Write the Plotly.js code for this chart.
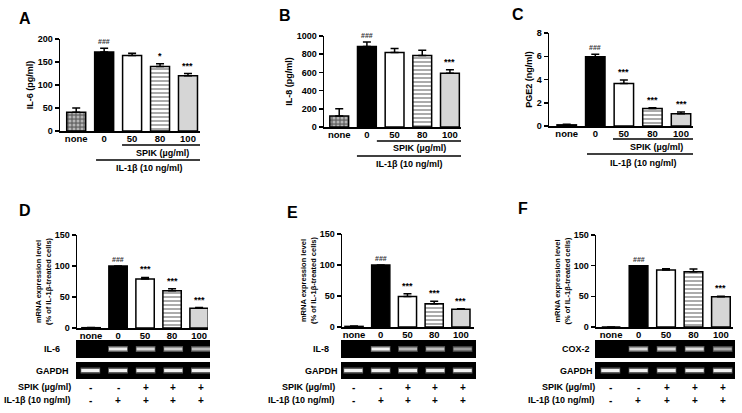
<!DOCTYPE html>
<html>
<head>
<meta charset="utf-8">
<script src="https://cdn.plot.ly/plotly-3.0.1.min.js"></script>
<style>
html, body { margin: 0; padding: 0; background: #fff; }
#chart { width: 742px; height: 413px; }
</style>
</head>
<body>
<div id="chart"></div>
<script>
// groups on every x axis
var groups = ['none', '0', '50', '80', '100'];

// A-C: secreted protein (mean, SEM)
var il6Mean = [41, 172, 164, 140, 120];
var il6Err = [9, 8, 5, 6, 5];
var il6Sig = ['', '###', '', '*', '***'];

var il8Mean = [120, 885, 820, 785, 590];
var il8Err = [80, 50, 42, 58, 40];
var il8Sig = ['', '###', '', '', '***'];

var pge2Mean = [0.1, 5.95, 3.65, 1.5, 1.05];
var pge2Err = [0.05, 0.22, 0.3, 0.08, 0.15];
var pge2Sig = ['', '###', '***', '***', '***'];

// D-F: mRNA, % of IL-1b treated cells
var il6Mrna = [0.5, 100, 79, 60, 32];
var il6MrnaErr = [0.3, 0, 2.5, 3.5, 1];
var il6MrnaSig = ['', '###', '***', '***', '***'];

var il8Mrna = [1, 100, 49, 37.5, 28.5];
var il8MrnaErr = [0.5, 0, 4.5, 4, 0.8];
var il8MrnaSig = ['', '###', '***', '***', '***'];

var cox2Mrna = [0, 100, 93, 90, 49.5];
var cox2MrnaErr = [0, 0, 2, 4.5, 0.7];
var cox2MrnaSig = ['', '###', '', '', '***'];

// gel band brightness (0 = no band)
var il6Band = [0, 0.92, 0.85, 0.82, 0.74];
var il8Band = [0, 0.95, 0.72, 0.76, 0.62];
var cox2Band = [0, 0.86, 0.86, 0.88, 0.68];
var gapdhBandD = [0.95, 0.95, 0.95, 0.95, 0.95];
var gapdhBandE = [0.95, 0.95, 0.95, 0.95, 0.95];
var gapdhBandF = [0.95, 0.95, 0.95, 0.95, 0.95];

var spikSigns = ['-', '-', '+', '+', '+'];
var il1bSigns = ['-', '+', '+', '+', '+'];

var W = 742, H = 413;
var FONT = 'Liberation Sans, Arial, sans-serif';

function px(a, b) { return [a / W, b / W]; }
function py(top, bottom) { return [1 - bottom / H, 1 - top / H]; }
function fy(y) { return 1 - y / H; }
function fx(x) { return x / W; }

// bar look per group
var fillColors = ['#6a6a6a', '#000000', '#ffffff', '#ffffff', '#d6d6d6'];
var patShapes = ['.', '', '', '-', ''];
var patFg = ['#c8c8c8', '#000000', '#ffffff', '#8c8c8c', '#d6d6d6'];

var panels = [
  {mean: il6Mean, err: il6Err, sig: il6Sig, title: 'IL-6 (pg/ml)', tsize: 9,
   xd: [60, 200], yd: [39, 131], xr: [-0.58, 4.43], yr: [0, 200], dtick: 50,
   letter: 'A', lx: 25, ly: 18,
   spik: [1.64, 4.54], il1b: [0.71, 4.54], by: [145, 153, 160, 168]},
  {mean: il8Mean, err: il8Err, sig: il8Sig, title: 'IL-8 (pg/ml)', tsize: 9,
   xd: [324, 461], yd: [36, 127], xr: [-0.55, 4.4], yr: [0, 1000], dtick: 200,
   letter: 'B', lx: 285, ly: 15,
   spik: [1.36, 4.47], il1b: [0.64, 4.47], by: [141, 148, 156, 164]},
  {mean: pge2Mean, err: pge2Err, sig: pge2Sig, title: 'PGE2 (ng/ml)', tsize: 9,
   xd: [549, 693], yd: [33, 126], xr: [-0.62, 4.42], yr: [0, 8], dtick: 2,
   letter: 'C', lx: 518, ly: 14,
   spik: [1.62, 4.63], il1b: [0.71, 4.63], by: [139, 147, 154, 163]},
  {mean: il6Mrna, err: il6MrnaErr, sig: il6MrnaSig, tsize: 7.5,
   title: 'mRNA expression level<br>(% of IL-1β-treated cells)',
   xd: [77, 208], yd: [235, 328], xr: [-0.52, 4.33], yr: [0, 150], dtick: 50,
   letter: 'D', lx: 25, ly: 210,
   gene: 'IL-6', band: il6Band, gapdh: gapdhBandD, glx: 52, rowx: 73},
  {mean: il8Mrna, err: il8MrnaErr, sig: il8MrnaSig, tsize: 7.5,
   title: 'mRNA expression level<br>(% of IL-1β-treated cells)',
   xd: [342, 474], yd: [234, 327], xr: [-0.45, 4.49], yr: [0, 150], dtick: 50,
   letter: 'E', lx: 292, ly: 212,
   gene: 'IL-8', band: il8Band, gapdh: gapdhBandE, glx: 321, rowx: 337},
  {mean: cox2Mrna, err: cox2MrnaErr, sig: cox2MrnaSig, tsize: 7.5,
   title: 'mRNA expression level<br>(% of IL-1β-treated cells)',
   xd: [596, 733], yd: [235, 327], xr: [-0.55, 4.44], yr: [0, 150], dtick: 50,
   letter: 'F', lx: 523, ly: 208,
   gene: 'COX-2', band: cox2Band, gapdh: gapdhBandF, glx: 576, rowx: 597}
];

var data = [];
var layout = {
  width: W, height: H,
  margin: {l: 0, r: 0, t: 0, b: 0},
  paper_bgcolor: '#ffffff', plot_bgcolor: 'rgba(0,0,0,0)',
  showlegend: false,
  bargap: 0.32,
  font: {family: FONT, size: 9, color: '#000', weight: 'bold'},
  annotations: [], shapes: []
};

function gray(v) {
  var c = Math.round(v * 255);
  return 'rgb(' + c + ',' + c + ',' + c + ')';
}

function txt(x, y, s, size, anchor, refx) {
  return {xref: refx || 'paper', yref: 'paper', x: x, y: y, xanchor: anchor || 'center',
    yanchor: 'middle', showarrow: false, text: s,
    font: {size: size, family: FONT, weight: 'bold', color: '#000'}};
}

var axisN = 1;
function nextAxis() { var n = axisN++; return n === 1 ? '' : String(n); }

panels.forEach(function (p) {
  var n = nextAxis();
  var xa = 'x' + n, ya = 'y' + n;

  data.push({
    type: 'bar', x: groups, y: p.mean, xaxis: xa, yaxis: ya,
    marker: {
      color: fillColors,
      line: {color: '#000', width: 1.5},
      pattern: {shape: patShapes, fgcolor: patFg, fillmode: 'overlay', size: 4, solidity: 0.45}
    },
    error_y: {type: 'data', symmetric: false, array: p.err,
              arrayminus: p.err.map(function () { return 0; }),
              color: '#000', thickness: 1.5, width: 4},
    hoverinfo: 'x+y'
  });

  layout['xaxis' + n] = {
    domain: px(p.xd[0], p.xd[1]), anchor: ya, type: 'category',
    range: p.xr, showline: true, linecolor: '#000', linewidth: 1.5,
    ticks: '', showgrid: false, zeroline: false, ticklabelstandoff: -2,
    tickfont: {size: 9.5, family: FONT, weight: 'bold'}
  };
  layout['yaxis' + n] = {
    domain: py(p.yd[0], p.yd[1]), anchor: xa,
    range: p.yr, dtick: p.dtick, showline: true, linecolor: '#000', linewidth: 1.5,
    ticks: 'outside', ticklen: 4, tickwidth: 1.5, tickcolor: '#000',
    showgrid: false, zeroline: false,
    tickfont: {size: 9, family: FONT, weight: 'bold'},
    title: {text: p.title, standoff: 2, font: {size: p.tsize, family: FONT, weight: 'bold'}}
  };

  // significance marks above error bars
  p.sig.forEach(function (s, i) {
    if (!s) return;
    layout.annotations.push({
      xref: xa, yref: ya, x: i, y: p.mean[i] + p.err[i], xanchor: 'center',
      yanchor: 'bottom', yshift: 1, showarrow: false, text: s,
      font: {size: s === '###' ? 7 : 9, family: FONT, weight: 'bold', color: s === '###' ? '#333' : '#000'}
    });
  });

  // panel letter
  layout.annotations.push(txt(fx(p.lx), fy(p.ly), p.letter, 16));

  if (p.spik) {
    // treatment brackets under A-C
    var lines = [[p.spik, p.by[0], 'SPIK (µg/ml)', p.by[1]], [p.il1b, p.by[2], 'IL-1β (10 ng/ml)', p.by[3]]];
    lines.forEach(function (l) {
      layout.shapes.push({type: 'line', xref: xa, yref: 'paper',
        x0: l[0][0], x1: l[0][1], y0: fy(l[1]), y1: fy(l[1]),
        line: {color: '#000', width: 1.3}});
      layout.annotations.push(txt((l[0][0] + l[0][1]) / 2, fy(l[3]), l[2], 9, 'center', xa));
    });
  }

  if (p.gene) {
    // two gel strips
    var gels = [[p.band, p.gene, 340, 358], [p.gapdh, 'GAPDH', 362, 379]];
    gels.forEach(function (g) {
      var gn = nextAxis();
      var gx = 'x' + gn, gy = 'y' + gn;
      layout['xaxis' + gn] = {domain: px(p.xd[0] - 1, p.xd[1] + 2), anchor: gy, type: 'category',
        range: p.xr, visible: false, fixedrange: true};
      layout['yaxis' + gn] = {domain: py(g[2], g[3]), anchor: gx, range: [0, 1], visible: false, fixedrange: true};
      layout.shapes.push({type: 'rect', xref: gx + ' domain', yref: gy + ' domain',
        x0: 0, x1: 1, y0: 0, y1: 1, fillcolor: '#000', line: {color: '#000', width: 0}, layer: 'below'});
      var halo = g[0].map(function (v) { return gray(v * 0.4); });
      var core = g[0].map(function (v) { return gray(v); });
      data.push({type: 'scatter', mode: 'markers', x: groups, y: groups.map(function () { return 0.5; }),
        xaxis: gx, yaxis: gy, hoverinfo: 'skip',
        marker: {symbol: 'line-ew', size: 14, line: {width: 6, color: halo}}});
      data.push({type: 'scatter', mode: 'markers', x: groups, y: groups.map(function () { return 0.5; }),
        xaxis: gx, yaxis: gy, hoverinfo: 'skip',
        marker: {symbol: 'line-ew', size: 13, line: {width: 3, color: core}}});
      layout.annotations.push(txt(fx(p.glx), fy((g[2] + g[3]) / 2), g[1], 9));
    });
    // treatment rows
    var gax = 'x' + (axisN - 1);
    var rows = [['SPIK (µg/ml)', spikSigns, 387], ['IL-1β (10 ng/ml)', il1bSigns, 400]];
    rows.forEach(function (r) {
      layout.annotations.push(txt(fx(p.rowx), fy(r[2]), r[0], 9, 'right'));
      r[1].forEach(function (s, i) {
        layout.annotations.push(txt(i, fy(r[2]), s, 10, 'center', gax));
      });
    });
  }
});

Plotly.newPlot('chart', data, layout, {staticPlot: true, displayModeBar: false});
</script>
</body>
</html>
